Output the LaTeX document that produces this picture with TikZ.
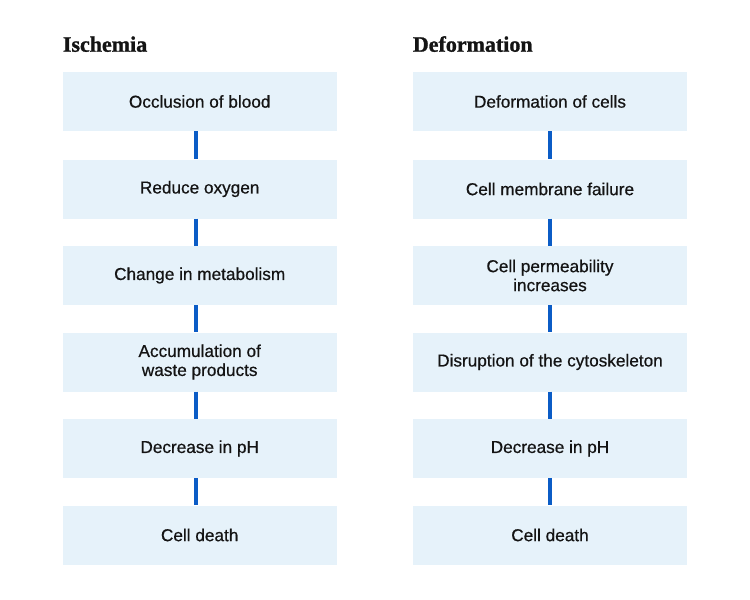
\documentclass[tikz,border=0pt]{standalone}
\usepackage{fontspec}
\setmainfont{Liberation Sans}[FakeBold=0.6]
\newfontfamily\titlefont{Liberation Serif}[BoldFeatures={FakeBold=1.2}]
\definecolor{boxfill}{HTML}{E6F2FA}
\definecolor{connblue}{HTML}{0B5CC6}
\definecolor{txt}{HTML}{141414}
\begin{document}
\begin{tikzpicture}[x=1pt,y=-1pt,
  stepbox/.style={fill=boxfill, draw=none, minimum width=274pt, minimum height=59pt,
    inner sep=0pt, align=center, text=txt,
    font=\fontsize{17.2}{19}\selectfont},
  heading/.style={anchor=base west, inner sep=0pt, text=txt,
    font=\titlefont\bfseries\fontsize{22}{26}\selectfont},
  conn/.style={draw=connblue, line width=4.5pt}]
\useasboundingbox[fill=white] (0,0) rectangle (750,600);

\node[heading] (tl) at (62.7,51.7) {Ischemia};
\node[heading] (tr) at (412.7,51.7) {Deformation};

\node[stepbox] (l1) at (199.7,101.5) {Occlusion of blood};
\node[stepbox] (l2) at (199.7,189) {Reduce oxygen};
\node[stepbox] (l3) at (199.7,275.5) {Change in metabolism};
\node[stepbox] (l4) at (199.7,362) {Accumulation of\\waste products};
\node[stepbox] (l5) at (199.7,448.5) {Decrease in pH};
\node[stepbox] (l6) at (199.7,535) {Cell death};

\node[stepbox] (r1) at (550,101.5) {Deformation of cells};
\node[stepbox] (r2) at (550,189) {Cell membrane failure};
\node[stepbox] (r3) at (550,275.5) {Cell permeability\\increases};
\node[stepbox] (r4) at (550,362) {Disruption of the cytoskeleton};
\node[stepbox] (r5) at (550,448.5) {Decrease in pH};
\node[stepbox] (r6) at (550,535) {Cell death};

\foreach \a/\b in {l1/l2,l2/l3,l3/l4,l4/l5,l5/l6}
  \draw[conn] ([xshift=-3.7pt]\a.south) -- ([xshift=-3.7pt]\b.north);
\foreach \a/\b in {r1/r2,r2/r3,r3/r4,r4/r5,r5/r6}
  \draw[conn] (\a.south) -- (\b.north);
\end{tikzpicture}
\end{document}
